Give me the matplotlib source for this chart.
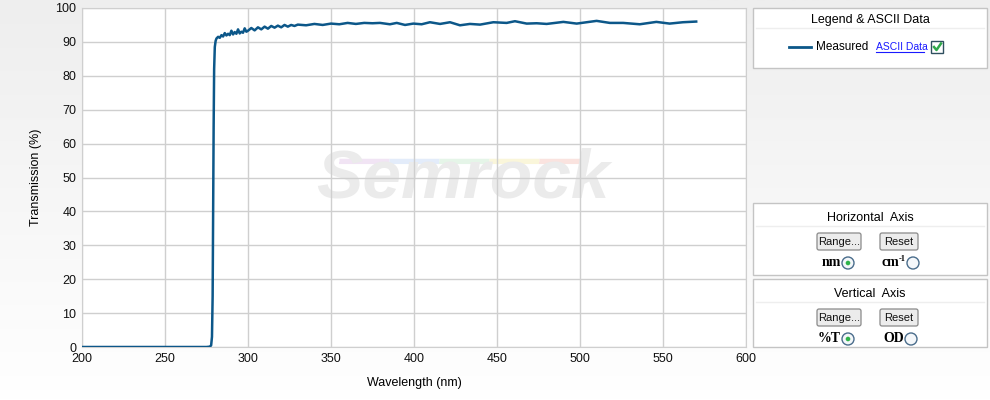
from __future__ import annotations

import matplotlib

matplotlib.use("Agg")
import matplotlib.pyplot as plt
import numpy as np
from matplotlib.patches import Circle, FancyBboxPatch, Rectangle

# measured transmission curve
wavelength_nm = [
    200, 220, 240, 260, 275, 277, 277.8, 278.3, 278.7, 279.0, 279.3, 279.6, 280.0, 280.5,
    281, 282, 283, 284, 285, 286, 287, 288, 289, 290, 291, 292, 293, 294, 295, 296, 297,
    298, 299, 300, 302, 304, 306, 308, 310, 312, 314, 316, 318, 320, 322, 324, 326, 328,
    330, 335, 340, 345, 350, 355, 360, 365, 370, 375, 379.5, 385.5, 389.6, 394.6, 399.6,
    404.6, 409.6, 415.7, 421.7, 427.7, 433.7, 439.8, 447.8, 455.8, 460.8, 467.9, 473.9,
    479.9, 490, 498, 504, 510, 518, 526, 536, 546, 554, 562, 570,
]
transmission_pct = [
    0.0, 0.0, 0.0, 0.0, 0.0, 0.1, 0.5, 3.0, 15.0, 40.0, 65.0, 82.0, 88.5, 90.3,
    91.0, 91.5, 91.2, 92.0, 91.6, 92.6, 91.9, 92.4, 92.0, 93.3, 92.2, 92.9, 92.4, 93.7,
    92.5, 93.0, 92.7, 94.0, 93.0, 93.3, 94.1, 93.4, 94.3, 93.7, 94.5, 93.9, 94.7, 94.2,
    94.8, 94.3, 95.0, 94.5, 95.0, 94.7, 95.1, 94.9, 95.3, 95.0, 95.4, 95.2, 95.6, 95.3,
    95.6, 95.5, 95.6, 95.2, 95.6, 95.0, 95.4, 95.2, 95.8, 95.3, 95.8, 94.9, 95.3, 95.1,
    95.8, 95.6, 96.1, 95.4, 95.5, 95.3, 95.9, 95.4, 95.8, 96.2, 95.6, 95.6, 95.2, 95.9,
    95.4, 95.8, 96.0,
]

x_ticks = [200, 250, 300, 350, 400, 450, 500, 550, 600]
y_ticks = [0, 10, 20, 30, 40, 50, 60, 70, 80, 90, 100]

LINE_COLOR = "#0c5789"
GRID_COLOR = "#cfcfcf"
BORDER = "#c4c4c4"
FONT = "Liberation Sans"

W, H = 990, 400


def px_axes(fig, left, top, right, bottom):
    return fig.add_axes([left / W, 1 - bottom / H, (right - left) / W, (bottom - top) / H])


def draw_button(ax, x0, y0, x1, y1, label):
    ax.add_patch(FancyBboxPatch((x0, y0), x1 - x0, y1 - y0, boxstyle="round,pad=0,rounding_size=2",
                                facecolor="#ececec", edgecolor="#8a8a8a", lw=0.9))
    ax.text((x0 + x1) / 2, (y0 + y1) / 2 + 0.5, label, ha="center", va="center",
            fontsize=8, family=FONT, color="#111111")


def draw_radio(ax, cx, cy, selected):
    ax.add_patch(Circle((cx, cy), 6, facecolor="#f4f7fa", edgecolor="#4a6d8c", lw=1.0))
    if selected:
        ax.add_patch(Circle((cx, cy), 2.3, facecolor="#2fb34a", edgecolor="none"))


def draw_panels(ax):
    # legend box
    ax.add_patch(Rectangle((753, 8), 234, 60, facecolor="white", edgecolor=BORDER, lw=1))
    ax.plot([756, 984], [28, 28], color="#eeeeee", lw=1)
    ax.text(870, 20, "Legend & ASCII Data", ha="center", va="center", fontsize=9, family=FONT)
    ax.plot([789, 811], [47, 47], color=LINE_COLOR, lw=2)
    ax.text(816, 47.5, "Measured", ha="left", va="center", fontsize=8.5, family=FONT)
    ax.text(876, 47, "ASCII Data", ha="left", va="center", fontsize=7.5, family=FONT, color="#1a1aff")
    ax.plot([876, 924], [52, 52], color="#1a1aff", lw=0.8)
    ax.add_patch(Rectangle((931, 41), 12, 12, facecolor="white", edgecolor="#2f4f5f", lw=1))
    ax.plot([934, 936.5, 941], [47, 50, 43.5], color="#2fa84a", lw=1.8)

    # axis control boxes
    for top, bottom, title, labels in [
        (203, 275, "Horizontal  Axis", ("nm", "cm")),
        (279, 347, "Vertical  Axis", ("%T", "OD")),
    ]:
        ax.add_patch(Rectangle((753, top), 234, bottom - top, facecolor="white", edgecolor=BORDER, lw=1))
        ax.plot([756, 984], [top + 23, top + 23], color="#eeeeee", lw=1)
        ax.text(870, top + 15, title, ha="center", va="center", fontsize=9, family=FONT)
        draw_button(ax, 817, top + 30, 861, top + 47, "Range...")
        draw_button(ax, 880, top + 30, 918, top + 47, "Reset")
        cy = top + 60
        ax.text(841, cy, labels[0], ha="right", va="center", fontsize=10, family="Liberation Serif",
                weight="bold")
        draw_radio(ax, 848, cy, True)
        if labels[1] == "cm":
            ax.text(899, cy, "cm", ha="right", va="center", fontsize=10, family="Liberation Serif",
                    weight="bold")
            ax.text(899, cy - 4, "-1", ha="left", va="center", fontsize=6, family="Liberation Serif",
                    weight="bold")
            draw_radio(ax, 913, cy, False)
        else:
            ax.text(904, cy, labels[1], ha="right", va="center", fontsize=10, family="Liberation Serif",
                    weight="bold")
            draw_radio(ax, 911, cy, False)


def main() -> None:
    fig = plt.figure(figsize=(W / 100, H / 100), dpi=100)

    # page background gradient + panel layer in pixel coordinates
    bg = fig.add_axes([0, 0, 1, 1], zorder=0)
    grad = np.linspace(0, 1, 256).reshape(-1, 1)
    bg.imshow(grad, cmap=matplotlib.colors.LinearSegmentedColormap.from_list("bg", ["#eeeeee", "#ffffff"]),
              extent=[0, W, H, 0], aspect="auto")
    bg.set_xlim(0, W)
    bg.set_ylim(H, 0)
    bg.axis("off")
    draw_panels(bg)

    ax = px_axes(fig, 82, 8, 746, 347)
    ax.set_zorder(1)
    ax.set_facecolor("white")
    ax.text(0.573, 0.495, "Semrock", transform=ax.transAxes, ha="center", va="center", fontsize=50,
            family=FONT, weight="bold", style="italic", color="#ebebeb", zorder=0.5)
    stripe_colors = ["#f1e4f4", "#e3ecfa", "#e5f5e8", "#faf6da", "#fae3df"]
    for i, c in enumerate(stripe_colors):
        ax.plot([355 + i * 30, 385 + i * 30], [55.3, 55.3], color=c, lw=2.5, zorder=0.4,
                solid_capstyle="butt")
        ax.plot([355 + i * 30, 385 + i * 30], [54.2, 54.2], color=c, lw=1.5, zorder=0.4,
                solid_capstyle="butt")

    ax.plot(wavelength_nm, transmission_pct, color=LINE_COLOR, lw=1.8, zorder=3)

    ax.set_xlim(200, 600)
    ax.set_ylim(0, 100)
    ax.set_xticks(x_ticks)
    ax.set_yticks(y_ticks)
    ax.grid(True, color=GRID_COLOR, lw=1)
    ax.set_axisbelow(True)
    ax.tick_params(length=0, labelsize=9, pad=4, colors="#111111")
    for lab in ax.get_xticklabels() + ax.get_yticklabels():
        lab.set_family(FONT)
    for s in ax.spines.values():
        s.set_color(GRID_COLOR)
    ax.set_xlabel("Wavelength (nm)", fontsize=9, family=FONT, labelpad=9)
    ax.set_ylabel("Transmission (%)", fontsize=9, family=FONT, labelpad=10)

    fig.savefig("out.png", dpi=100)
    plt.close(fig)


if __name__ == "__main__":
    main()
